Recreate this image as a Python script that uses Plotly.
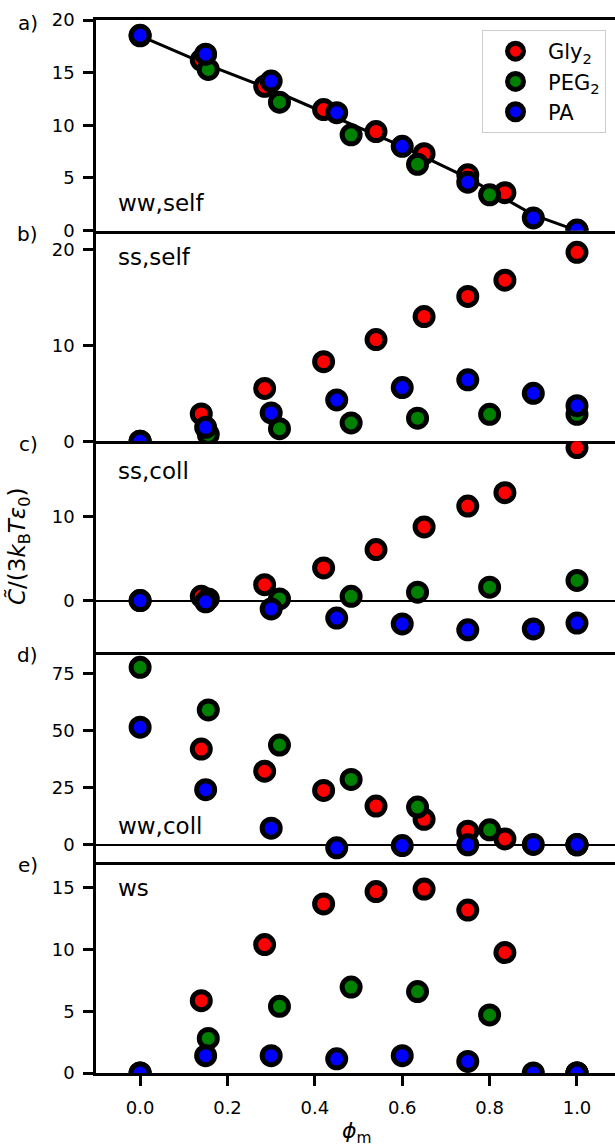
import plotly.graph_objects as go

# ---------------- data ----------------
gly_x = [0.14, 0.285, 0.42, 0.54, 0.65, 0.75, 0.835, 1.0]
peg_x = [0.0, 0.156, 0.319, 0.483, 0.635, 0.80, 1.0]
pa_x = [0.0, 0.15, 0.30, 0.45, 0.60, 0.75, 0.90, 1.0]

# a) ww,self
gly_ww_self = [16.2, 13.7, 11.5, 9.4, 7.3, 5.3, 3.6, 0.0]
peg_ww_self = [18.5, 15.3, 12.2, 9.1, 6.3, 3.4, 0.0]
pa_ww_self = [18.55, 16.75, 14.2, 11.2, 8.0, 4.6, 1.2, 0.05]
fit_x = [0.0, 0.15, 0.30, 0.45, 0.60, 0.75, 0.90, 1.0]
fit_y = [18.5, 15.8, 13.4, 10.7, 8.0, 5.0, 1.5, 0.0]

# b) ss,self
gly_ss_self = [2.85, 5.5, 8.3, 10.6, 13.0, 15.1, 16.8, 19.7]
peg_ss_self = [0.0, 0.7, 1.3, 1.9, 2.4, 2.8, 2.8]
pa_ss_self = [0.0, 1.45, 2.95, 4.3, 5.6, 6.4, 5.0, 3.7]

# c) ss,coll
gly_ss_coll = [0.5, 1.9, 3.9, 6.1, 8.8, 11.3, 12.9, 18.3]
peg_ss_coll = [0.0, 0.2, 0.2, 0.5, 1.0, 1.6, 2.4]
pa_ss_coll = [0.0, -0.15, -1.0, -2.1, -2.8, -3.5, -3.4, -2.7]

# d) ww,coll
gly_ww_coll = [42.0, 32.3, 23.9, 17.0, 11.2, 6.0, 2.6, 0.0]
peg_ww_coll = [77.9, 59.2, 43.8, 28.7, 16.6, 6.6, 0.0]
pa_ww_coll = [51.6, 24.2, 7.3, -1.3, -0.3, 0.0, 0.2, 0.2]

# e) ws
gly_ws = [5.86, 10.4, 13.7, 14.7, 14.9, 13.2, 9.76, 0.0]
peg_ws = [0.0, 2.8, 5.4, 6.96, 6.6, 4.7, 0.0]
pa_ws = [0.0, 1.4, 1.4, 1.15, 1.4, 0.94, 0.0, 0.0]

panel_letters = ["a)", "b)", "c)", "d)", "e)"]
panel_names = ["ww,self", "ss,self", "ss,coll", "ww,coll", "ws"]
series_names = ["Gly<sub>2</sub>", "PEG<sub>2</sub>", "PA"]
series_colors = ["#ff0000", "#008000", "#0000ff"]
x_ticks = [0.0, 0.2, 0.4, 0.6, 0.8, 1.0]
x_ticklabels = ["0.0", "0.2", "0.4", "0.6", "0.8", "1.0"]
y_ticks = [[0, 5, 10, 15, 20], [0, 10, 20], [0, 10], [0, 25, 50, 75], [0, 5, 10, 15]]

panels = [
    (gly_ww_self, peg_ww_self, pa_ww_self),
    (gly_ss_self, peg_ss_self, pa_ss_self),
    (gly_ss_coll, peg_ss_coll, pa_ss_coll),
    (gly_ww_coll, peg_ww_coll, pa_ww_coll),
    (gly_ws, peg_ws, pa_ws),
]

# ---------------- layout geometry ----------------
W, H = 615, 1147
ML, MR, MT, MB = 96, 0, 20, 74
PH = H - MT - MB
y_ranges = [[0, 20], [0, 21.97], [-6.13, 19.06], [-7.7, 84.7], [0, 17.06]]
x_range = [-0.101, 1.087]
FONT = "DejaVu Sans"
LW = 2.5
TICKFONT = 18

def ypix(py):
    return (H - MB - py) / PH

def xpix(px):
    return (px - ML) / (W - ML - MR)

fig = go.Figure()

# fit line in panel a
fig.add_trace(go.Scatter(x=fit_x, y=fit_y, mode="lines",
                         line=dict(color="black", width=3),
                         showlegend=False, hoverinfo="skip",
                         xaxis="x", yaxis="y"))

xs = [gly_x, peg_x, pa_x]
for i, data in enumerate(panels):
    ax = "" if i == 0 else str(i + 1)
    for j, (vals, name, col) in enumerate(zip(data, series_names, series_colors)):
        fig.add_trace(go.Scatter(
            x=xs[j], y=vals, mode="markers", name=name,
            marker=dict(size=18, color=col, line=dict(color="black", width=5)),
            showlegend=(i == 0), legendgroup=name,
            xaxis="x" + ax, yaxis="y" + ax))

layout = dict(
    width=W, height=H,
    margin=dict(l=ML, r=MR, t=MT, b=MB, pad=0),
    paper_bgcolor="white", plot_bgcolor="white",
    font=dict(family=FONT, size=TICKFONT, color="black"),
    showlegend=True,
    legend=dict(x=xpix(482), y=ypix(30), xanchor="left", yanchor="top",
                bgcolor="white", bordercolor="#cccccc", borderwidth=1,
                font=dict(family=FONT, size=21), itemwidth=55,
                tracegroupgap=0),
)

annotations = []
for i in range(5):
    ax = "" if i == 0 else str(i + 1)
    top = 1.0 - i / 5.0
    bot = 1.0 - (i + 1) / 5.0
    last = (i == 4)
    layout["xaxis" + ax] = dict(
        domain=[0, 1], anchor="y" + ax, range=x_range,
        showline=True, mirror=(i == 0), linecolor="black", linewidth=LW,
        showgrid=False, zeroline=False,
        ticks="outside" if last else "", ticklen=10, tickwidth=LW, tickcolor="black",
        tickvals=x_ticks, ticktext=x_ticklabels, showticklabels=last,
        tickfont=dict(family=FONT, size=TICKFONT), ticklabelstandoff=7,
        matches=None if i == 0 else "x",
    )
    layout["yaxis" + ax] = dict(
        domain=[bot, top], anchor="x" + ax, range=y_ranges[i],
        showline=True, linecolor="black", linewidth=LW,
        showgrid=False,
        zeroline=(i in (2, 3)), zerolinecolor="black", zerolinewidth=1.5,
        ticks="outside", ticklen=10, tickwidth=LW, tickcolor="black",
        tickvals=y_ticks[i], tickfont=dict(family=FONT, size=TICKFONT),
        ticklabelstandoff=5,
    )
    # panel letter
    top_px = MT + i * PH / 5.0
    annotations.append(dict(text=panel_letters[i], xref="paper", yref="paper",
                            x=xpix(40), y=ypix(top_px + 3), xanchor="right", yanchor="middle",
                            showarrow=False, font=dict(family=FONT, size=20)))

# panel names (domain coords)
name_pos = [0.133, 0.874, 0.859, 0.175, 0.879]
for i in range(5):
    ax = "" if i == 0 else str(i + 1)
    annotations.append(dict(text=panel_names[i], xref="x" + ax + " domain", yref="y" + ax + " domain",
                            x=0.039, y=name_pos[i], xanchor="left", yanchor="middle",
                            showarrow=False, font=dict(family=FONT, size=23)))

# axis titles
annotations.append(dict(text="<i>C\u0303</i>/(3<i>k</i><sub>B</sub><i>T\u03b5</i><sub>0</sub>)",
                        xref="paper", yref="paper", x=xpix(19), y=ypix(546),
                        xanchor="center", yanchor="middle", textangle=-90,
                        showarrow=False, font=dict(family=FONT, size=23)))
annotations.append(dict(text="<i>\u03d5</i><sub>m</sub>",
                        xref="paper", yref="paper", x=xpix(357), y=ypix(1132),
                        xanchor="center", yanchor="middle",
                        showarrow=False, font=dict(family=FONT, size=22)))

layout["annotations"] = annotations
fig.update_layout(**layout)
fig.write_html("out.html")
